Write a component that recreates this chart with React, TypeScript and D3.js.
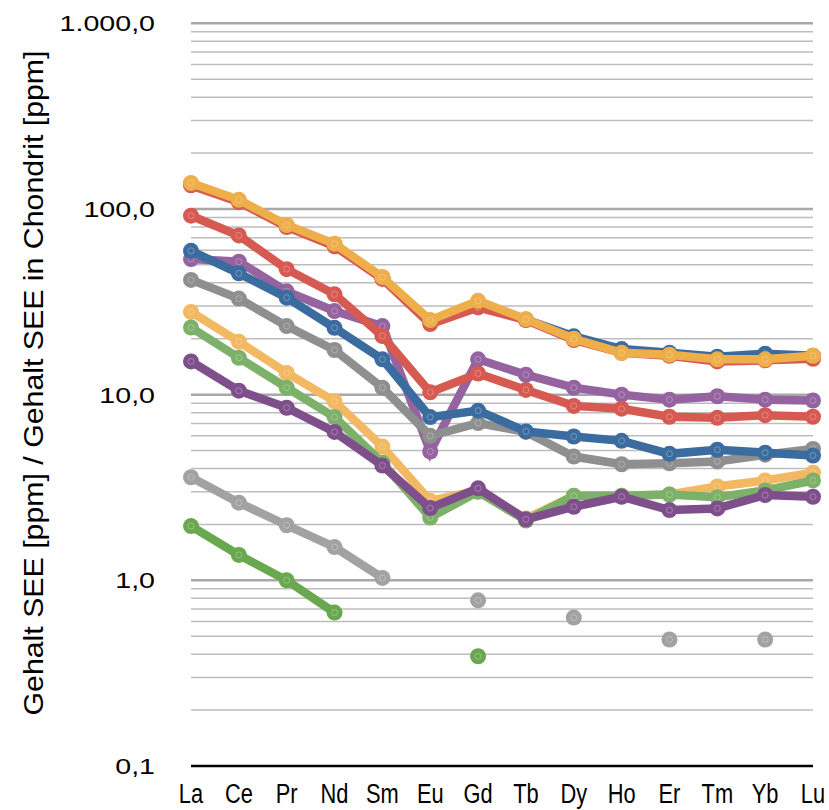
import React from 'react'
import * as d3 from 'd3'

// Seltene Erden, normiert auf Chondrit
const elements = ['La', 'Ce', 'Pr', 'Nd', 'Sm', 'Eu', 'Gd', 'Tb', 'Dy', 'Ho', 'Er', 'Tm', 'Yb', 'Lu']

const blueTop = [136, 110, 81, 64, 42.5, 24.8, 31, 25.4, 20.6, 17.6, 16.8, 16.0, 16.6, 16.2]
const redTop = [134, 109, 80, 63, 42, 24, 29.5, 25.2, 19.7, 16.8, 16.2, 15.1, 15.3, 15.6]
const orangeTop = [138, 112, 82, 65, 43, 25.2, 32, 25.5, 20, 16.8, 16.4, 15.5, 15.5, 16.2]
const purpleLight = [53.7, 52, 36, 28.2, 23.4, 4.94, 15.5, 12.8, 10.9, 10, 9.4, 9.8, 9.4, 9.3]
const grayMid = [41.5, 32.9, 23.4, 17.4, 10.9, 6.0, 7.03, 6.3, 4.64, 4.22, 4.27, 4.37, 4.75, 5.1]
const redMid = [92, 72, 47.4, 34.7, 20.7, 10.3, 13, 10.6, 8.7, 8.4, 7.6, 7.5, 7.75, 7.6]
const blueMid = [59.5, 45, 33.3, 22.9, 15.5, 7.57, 8.2, 6.34, 5.95, 5.64, 4.8, 5.05, 4.87, 4.7]
const orangeLow = [27.9, 19.3, 13.1, 9.2, 5.25, 2.68, 3.05, 2.15, 2.85, 2.85, 2.9, 3.2, 3.45, 3.8]
const greenLow = [23, 15.8, 10.9, 7.57, 4.3, 2.18, 3.0, 2.1, 2.85, 2.85, 2.9, 2.8, 3.05, 3.45]
const purpleDark = [15.1, 10.5, 8.5, 6.3, 4.15, 2.45, 3.13, 2.13, 2.49, 2.82, 2.39, 2.44, 2.88, 2.82]
const grayLight = [3.59, 2.62, 1.98, 1.51, 1.03, null, 0.78, null, 0.63, null, 0.48, null, 0.48, null]
const greenDark = [1.96, 1.37, 1.0, 0.67, null, null, 0.39, null, null, null, null, null, null, null]

const yTicks = [0.1, 1, 10, 100, 1000]
const yTickLabels = ['0,1', '1,0', '10,0', '100,0', '1.000,0']

// draw order: first = bottom
const series = [
  { values: grayLight, color: '#a1a2a1' },
  { values: greenDark, color: '#6aa84f' },
  { values: blueTop, color: '#3b6ca0' },
  { values: redTop, color: '#d65a51' },
  { values: orangeTop, color: '#eeae4a' },
  { values: purpleLight, color: '#9563a0' },
  { values: grayMid, color: '#8e8f8e' },
  { values: redMid, color: '#d65a51' },
  { values: blueMid, color: '#3b6ca0' },
  { values: orangeLow, color: '#f2b862' },
  { values: greenLow, color: '#7db16a' },
  { values: purpleDark, color: '#7f4f8c' },
]

export default function App() {
  const width = 829
  const height = 810

  const x = d3.scalePoint<string>().domain(elements).range([191, 813])
  const y = d3.scaleLog().domain([0.1, 1000]).range([766, 23.3])

  const minorTicks: number[] = []
  for (let e = -1; e < 3; e++) {
    for (let k = 2; k <= 9; k++) minorTicks.push(k * Math.pow(10, e))
  }

  const line = d3.line<number | null>()
    .defined(d => d != null)
    .x((d, i) => x(elements[i]) as number)
    .y(d => y(d as number))

  const [x0, x1] = x.range()

  return (
    <svg width={width} height={height} style={{ position: 'absolute', left: 0, top: 0, background: '#fff' }}
      fontFamily="'Liberation Sans', Arial, Helvetica, sans-serif">
      {/* minor grid */}
      {minorTicks.map(t => (
        <line key={'m' + t} x1={x0} x2={x1} y1={y(t)} y2={y(t)} stroke="#bdbdbd" strokeWidth={1.5} />
      ))}
      {/* major grid */}
      {yTicks.slice(1).map(t => (
        <line key={'g' + t} x1={x0} x2={x1} y1={y(t)} y2={y(t)} stroke="#a8a8a8" strokeWidth={2.5} />
      ))}
      {/* x axis line */}
      <line x1={x0} x2={x1} y1={y(0.1)} y2={y(0.1)} stroke="#000" strokeWidth={2.5} />

      {/* y tick labels */}
      {yTicks.map((t, i) => (
        <text key={'yl' + t} transform={`translate(155,${y(t) + 8}) scale(1.3,1)`} textAnchor="end"
          fontSize={22} fill="#000">{yTickLabels[i]}</text>
      ))}

      {/* x tick labels */}
      {elements.map(el => (
        <text key={'xl' + el} transform={`translate(${x(el)},803) scale(0.78,1)`} textAnchor="middle"
          fontSize={28} fill="#000">{el}</text>
      ))}

      {/* y axis title */}
      <text transform="translate(43,383) rotate(-90)" textAnchor="middle" fontSize={28} fill="#000"
        textLength={665} lengthAdjust="spacingAndGlyphs">
        Gehalt SEE [ppm] / Gehalt SEE in Chondrit [ppm]
      </text>

      {/* series */}
      {series.map((s, si) => (
        <g key={'s' + si}>
          <path d={line(s.values) || ''} fill="none" stroke={s.color} strokeWidth={8.5}
            strokeLinejoin="miter" strokeMiterlimit={10} />
          {s.values.map((v, i) => v == null ? null : (
            <g key={i}>
              <circle cx={x(elements[i])} cy={y(v)} r={8} fill={s.color} />
              <circle cx={x(elements[i])} cy={y(v)} r={3} fill="none" stroke="rgba(255,255,255,0.35)" strokeWidth={0.8} />
            </g>
          ))}
        </g>
      ))}
    </svg>
  )
}
